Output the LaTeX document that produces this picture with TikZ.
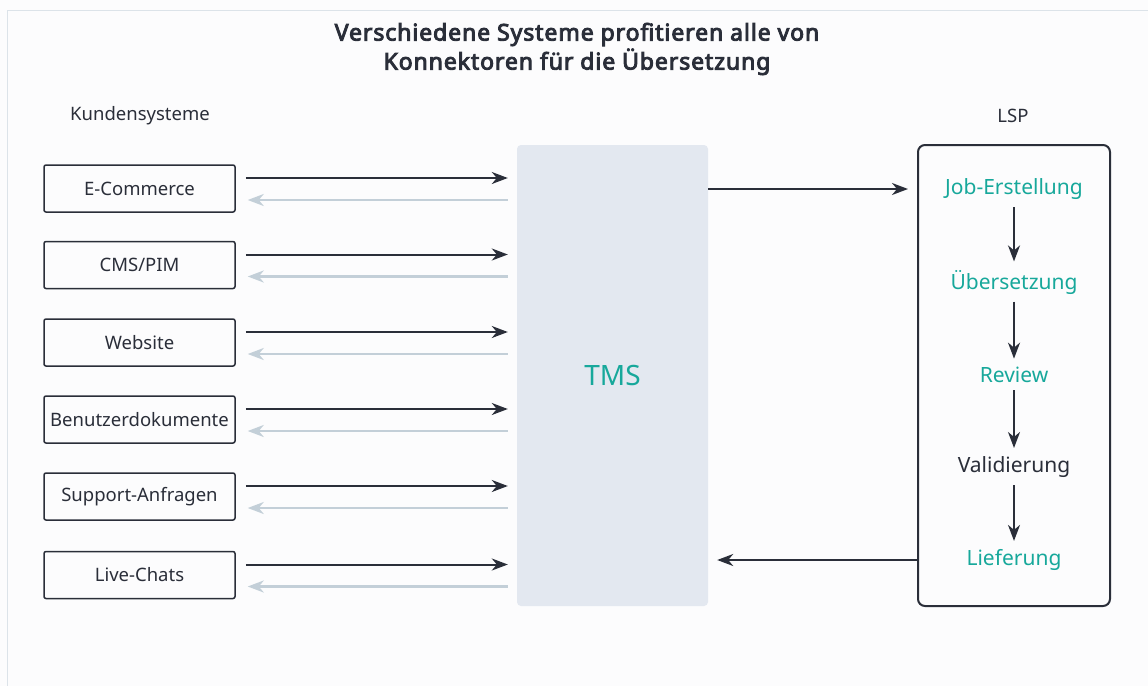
\documentclass[tikz,border=0pt]{standalone}
\usepackage{fontspec}
\setmainfont{Noto Sans}
\newfontfamily\titlefont{Noto Sans}[FakeBold=4, LetterSpace=4]
\usetikzlibrary{arrows.meta,positioning}

\definecolor{ink}{HTML}{2A2E39}
\definecolor{pale}{HTML}{C3CFD8}
\definecolor{teal}{HTML}{17A89B}
\definecolor{tmsfill}{HTML}{E3E8F0}
\definecolor{frame}{HTML}{DCE3E9}
\definecolor{paper}{HTML}{FCFCFD}

\begin{document}
\begin{tikzpicture}[x=1pt, y=-1pt, >={Stealth[length=16pt,width=12pt,inset=5pt]},
                    every node/.style={font=\fontsize{18.5}{22}\selectfont, text=ink},
                    system/.style={draw=ink, line width=1.5pt, rounded corners=2pt,
                                   minimum width=191pt, minimum height=47pt},
                    fwd/.style={->, draw=ink, line width=2pt},
                    bwd/.style={->, draw=pale, line width=2.5pt},
                    stage/.style={text=teal, font=\fontsize{21}{25}\selectfont}]

\useasboundingbox (0,0) rectangle (1148,686);
\fill[paper] (0,0) rectangle (1148,686);
\draw[frame, line width=1pt] (1148,10) -- (7,10) -- (7,686);

% title
\node[font=\titlefont\fontsize{23}{29}\selectfont, align=center] (title) at (577,49)
  {Verschiedene Systeme profitieren alle von\\Konnektoren für die Übersetzung};

\node (kunden) at (140,116) {Kundensysteme};
\node (lsplabel) at (1013,116) {LSP};

% customer systems
\node[system] (ec)  at (139.5,188.5) {E-Commerce};
\node[system] (cms) at (139.5,265)   {CMS/PIM};
\node[system] (web) at (139.5,342.5) {Website};
\node[system] (doc) at (139.5,419.5) {Benutzerdokumente};
\node[system] (sup) at (139.5,496.5) {Support-Anfragen};
\node[system] (chat) at (139.5,575)  {Live-Chats};

% TMS
\node[fill=tmsfill, rounded corners=4pt, minimum width=191pt, minimum height=461pt,
      text=teal, font=\fontsize{28}{32}\selectfont] (tms) at (612.5,375.5) {TMS};

% LSP
\node[draw=ink, line width=2pt, rounded corners=7pt, minimum width=192pt,
      minimum height=461pt] (lsp) at (1014,375.5) {};
\node[stage] (job)  at (1014,189) {Job-Erstellung};
\node[stage] (ueb)  at (1014,282) {Übersetzung};
\node[stage] (rev)  at (1014,375) {Review};
\node[stage, text=ink] (val) at (1014,467) {Validierung};
\node[stage] (lief) at (1014,560) {Lieferung};

\foreach \s in {ec,cms,web,doc,sup,chat}{
  \draw[fwd, shorten <=10pt, shorten >=9pt]
    ([yshift=10.5pt]\s.east) -- ([yshift=10.5pt]\s.east -| tms.west);
  \draw[bwd, shorten <=9pt, shorten >=12pt]
    ([yshift=-11.5pt]\s.east -| tms.west) -- ([yshift=-11.5pt]\s.east);
}

\path
(tms.east |- job) edge [fwd, shorten >=9pt] (lsp.west |- job)
(lsp.west |- lief) edge [fwd, shorten >=9pt] (tms.east |- lief)
(job) edge [fwd, shorten <=4pt, shorten >=5pt] (ueb)
(ueb) edge [fwd, shorten <=4pt, shorten >=5pt] (rev)
(rev) edge [fwd, shorten <=4pt, shorten >=5pt] (val)
(val) edge [fwd, shorten <=4pt, shorten >=5pt] (lief);
\end{tikzpicture}
\end{document}
